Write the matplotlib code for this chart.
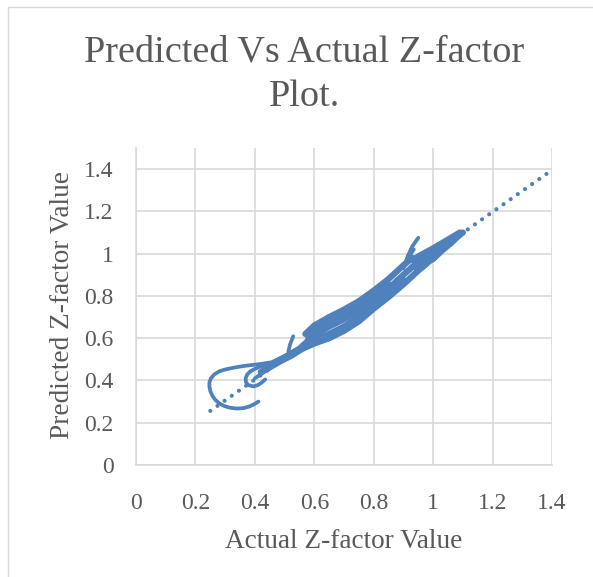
import matplotlib
matplotlib.use("Agg")
import matplotlib.pyplot as plt
from matplotlib.patches import Rectangle

# ---- data ----
# linear trendline (dotted), endpoints
trend_x = [0.25, 1.385]
trend_y = [0.256, 1.381]

# lower-left hook and inner loop
loop_outer_x = [0.45, 0.42, 0.395, 0.36, 0.327, 0.30, 0.28, 0.263, 0.252, 0.247, 0.247, 0.25,
                0.257, 0.267, 0.28, 0.297, 0.316, 0.34, 0.361, 0.38, 0.397, 0.412]
loop_outer_y = [0.485, 0.478, 0.474, 0.468, 0.46, 0.452, 0.443, 0.428, 0.41, 0.39, 0.372, 0.35,
                0.328, 0.308, 0.292, 0.279, 0.271, 0.267, 0.269, 0.276, 0.287, 0.300]
loop_inner_x = [0.47, 0.445, 0.42, 0.40, 0.385, 0.374, 0.369, 0.37, 0.378, 0.395, 0.41, 0.423, 0.435]
loop_inner_y = [0.49, 0.478, 0.467, 0.455, 0.443, 0.428, 0.41, 0.392, 0.378, 0.372, 0.378, 0.39, 0.405]
hook_x = [0.40, 0.42, 0.45, 0.48]
hook_y = [0.41, 0.43, 0.455, 0.48]

# main band, several traces
band1_x = [0.42, 0.47, 0.52, 0.56, 0.60, 0.65, 0.70, 0.75, 0.80, 0.85, 0.90, 0.95, 0.98]
band1_y = [0.44, 0.48, 0.515, 0.55, 0.575, 0.60, 0.635, 0.68, 0.74, 0.795, 0.855, 0.92, 0.955]
band2_x = [0.57, 0.60, 0.65, 0.70, 0.75, 0.80, 0.85, 0.90, 0.93]
band2_y = [0.62, 0.66, 0.70, 0.735, 0.775, 0.825, 0.88, 0.945, 0.98]
band3_x = [0.45, 0.50, 0.55, 0.60, 0.65, 0.70, 0.75, 0.80, 0.85, 0.90, 0.94]
band3_y = [0.475, 0.51, 0.55, 0.615, 0.655, 0.69, 0.73, 0.78, 0.835, 0.90, 0.95]
band4_x = [0.58, 0.62, 0.66, 0.70, 0.75, 0.80, 0.85]
band4_y = [0.60, 0.64, 0.67, 0.705, 0.745, 0.80, 0.855]
band5_x = [0.55, 0.60, 0.65, 0.70, 0.75, 0.80, 0.85, 0.90]
band5_y = [0.545, 0.59, 0.62, 0.655, 0.70, 0.755, 0.81, 0.875]
band6_x = [0.59, 0.63, 0.68, 0.73, 0.78]
band6_y = [0.63, 0.67, 0.705, 0.735, 0.78]

# upper right branch
right1_x = [0.93, 0.96, 1.00, 1.03, 1.06, 1.09]
right1_y = [0.97, 0.995, 1.025, 1.05, 1.075, 1.10]
right2_x = [0.94, 0.97, 1.00, 1.03, 1.06, 1.09]
right2_y = [0.935, 0.95, 0.975, 1.015, 1.05, 1.09]
right3_x = [0.95, 0.98, 1.01, 1.04, 1.07, 1.10]
right3_y = [0.96, 0.98, 1.005, 1.035, 1.07, 1.10]

# spikes
spike1_x = [0.90, 0.915, 0.93, 0.95]
spike1_y = [0.93, 0.99, 1.035, 1.075]
spike2_x = [0.91, 0.925, 0.935]
spike2_y = [0.96, 1.00, 1.02]
spike3_x = [0.513, 0.518, 0.529]
spike3_y = [0.538, 0.569, 0.609]

x_ticks = [0, 0.2, 0.4, 0.6, 0.8, 1, 1.2, 1.4]
x_tick_labels = ["0", "0.2", "0.4", "0.6", "0.8", "1", "1.2", "1.4"]
y_ticks = [0, 0.2, 0.4, 0.6, 0.8, 1, 1.2, 1.4]
y_tick_labels = ["0", "0.2", "0.4", "0.6", "0.8", "1", "1.2", "1.4"]

BLUE = "#4F81BD"
GREY = "#D9D9D9"
TEXT = "#595959"
FONT = "Liberation Serif"

plt.rcParams["font.family"] = [FONT, "DejaVu Serif"]

W, H = 593, 577
fig = plt.figure(figsize=(W / 100, H / 100), dpi=100)

# chart area border
fig.patches.append(Rectangle((8 / W, -0.05), 1.2, (H - 7) / H + 0.05,
                             transform=fig.transFigure, fill=False,
                             edgecolor=GREY, linewidth=1.0))

ax = fig.add_axes([136 / W, (H - 465) / H, 416 / W, 317 / H])
ax.set_xlim(0, 1.4)
ax.set_ylim(0, 1.5)
ax.set_xticks(x_ticks)
ax.set_xticklabels(x_tick_labels)
ax.set_yticks(y_ticks)
ax.set_yticklabels(y_tick_labels)
ax.grid(True, color=GREY, linewidth=1.2)
ax.set_axisbelow(True)
for side in ["top", "right"]:
    ax.spines[side].set_visible(False)
for side in ["left", "bottom"]:
    ax.spines[side].set_color(GREY)
    ax.spines[side].set_linewidth(1.2)
ax.tick_params(length=0, labelsize=17, labelcolor=TEXT)
ax.tick_params(axis="y", pad=16)
ax.tick_params(axis="x", pad=20)

# trendline
ax.plot(trend_x, trend_y, color=BLUE, linewidth=3.0,
        linestyle=(0, (0.01, 2.09)), dash_capstyle="round", zorder=2)

thin = dict(color=BLUE, linewidth=2.7, solid_capstyle="round",
            solid_joinstyle="round", zorder=3)
thick = dict(color=BLUE, linewidth=4.5, solid_capstyle="round",
             solid_joinstyle="round", zorder=3)

for xs, ys in [(loop_outer_x, loop_outer_y), (loop_inner_x, loop_inner_y),
               (hook_x, hook_y), (spike2_x, spike2_y), (spike3_x, spike3_y),
               (spike1_x, spike1_y)]:
    ax.plot(xs, ys, **thin)

for xs, ys in [(band1_x, band1_y), (band2_x, band2_y), (band3_x, band3_y),
               (band4_x, band4_y), (band5_x, band5_y), (band6_x, band6_y),
               (right1_x, right1_y), (right2_x, right2_y), (right3_x, right3_y)]:
    ax.plot(xs, ys, **thick)

# titles and axis labels
fig.text(304 / W, 1 - 52 / H, "Predicted Vs Actual Z-factor", ha="center",
         va="center", fontsize=27.5, color=TEXT)
fig.text(304 / W, 1 - 97 / H, "Plot.", ha="center", va="center",
         fontsize=27.5, color=TEXT)
fig.text(344 / W, 1 - 541 / H, "Actual Z-factor Value", ha="center",
         va="center", fontsize=19.6, color=TEXT)
fig.text(63 / W, 1 - 305 / H, "Predicted Z-factor Value", ha="center",
         va="center", rotation=90, fontsize=19.6, color=TEXT)

fig.savefig("out.png", dpi=100)
